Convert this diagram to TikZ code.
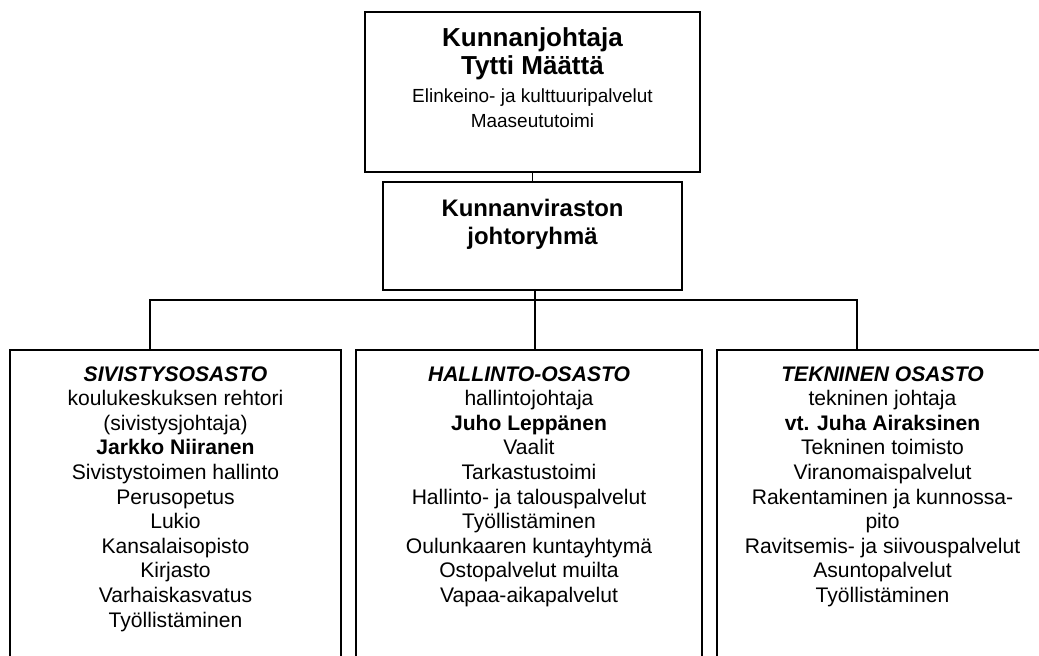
\documentclass[tikz,border=0pt]{standalone}
\usepackage{fontspec}
\setmainfont{Liberation Sans}
\usetikzlibrary{positioning}
\tikzset{
  orgbox/.style={rectangle, draw=black, line width=1.3pt, inner sep=0pt},
  orgtext/.style={align=center, inner sep=0pt, font=\fontsize{15}{17.5}\selectfont},
  link/.style={line width=1.3pt},
}
\newcommand{\headbig}[1]{{\fontsize{18.5}{20}\selectfont\bfseries #1}}
\newcommand{\depthead}[1]{\textbf{\textit{#1}}}

\begin{document}
\begin{tikzpicture}[x=0.025cm, y=-0.025cm]
  \useasboundingbox (0,0) rectangle (1039,656);
  \clip (0,0) rectangle (1039,656);

  % boxes
  \node[orgbox, minimum width=8.375cm, minimum height=4cm] (chief) at (532.5,92) {};
  \node[orgbox, minimum width=7.475cm, minimum height=2.7cm] (board) at (532.5,236) {};
  \node[orgbox, minimum width=8.275cm, minimum height=8.75cm] (sivi) at (175.5,525) {};
  \node[orgbox, minimum width=8.65cm, minimum height=8.75cm] (hall) at (529,525) {};
  \node[orgbox, minimum width=8.275cm, minimum height=8.75cm] (tekn) at (882.5,525) {};

  % texts
  \node[orgtext, font=\fontsize{13.5}{20.1}\selectfont, below=0.4cm of chief.north] (chieftxt)
    {\headbig{Kunnanjohtaja}\\\headbig{Tytti Määttä}\\
     Elinkeino- ja kulttuuripalvelut\\[-2.3pt]Maaseututoimi};
  \node[orgtext, font=\fontsize{17}{20.1}\selectfont\bfseries, below=0.44cm of board.north] (boardtxt)
    {Kunnanviraston\\johtoryhmä};
  \node[orgtext, below=0.425cm of sivi.north] (sivitxt)
    {\depthead{SIVISTYSOSASTO}\\koulukeskuksen rehtori\\(sivistysjohtaja)\\
     \textbf{Jarkko Niiranen}\\Sivistystoimen hallinto\\Perusopetus\\Lukio\\
     Kansalaisopisto\\Kirjasto\\Varhaiskasvatus\\Työllistäminen};
  \node[orgtext, below=0.425cm of hall.north] (halltxt)
    {\depthead{HALLINTO-OSASTO}\\hallintojohtaja\\\textbf{Juho Leppänen}\\
     Vaalit\\Tarkastustoimi\\Hallinto- ja talouspalvelut\\Työllistäminen\\
     Oulunkaaren kuntayhtymä\\Ostopalvelut muilta\\Vapaa-aikapalvelut};
  \node[orgtext, below=0.425cm of tekn.north] (tekntxt)
    {\depthead{TEKNINEN OSASTO}\\tekninen johtaja\\\textbf{vt. Juha Airaksinen}\\
     Tekninen toimisto\\Viranomaispalvelut\\Rakentaminen ja kunnossa-\\pito\\
     Ravitsemis- ja siivouspalvelut\\Asuntopalvelut\\Työllistäminen};

  % connectors
  \coordinate (busmid) at (535,300);
  \coordinate (sivitop) at (150,350);
  \coordinate (halltop) at (535,350);
  \coordinate (tekntop) at (857,350);
  \draw[link] (chief) -- (board);
  \draw[link] (board.south -| busmid) -- (halltop);
  \draw[link] (sivitop) |- (busmid) -| (tekntop);
\end{tikzpicture}
\end{document}
